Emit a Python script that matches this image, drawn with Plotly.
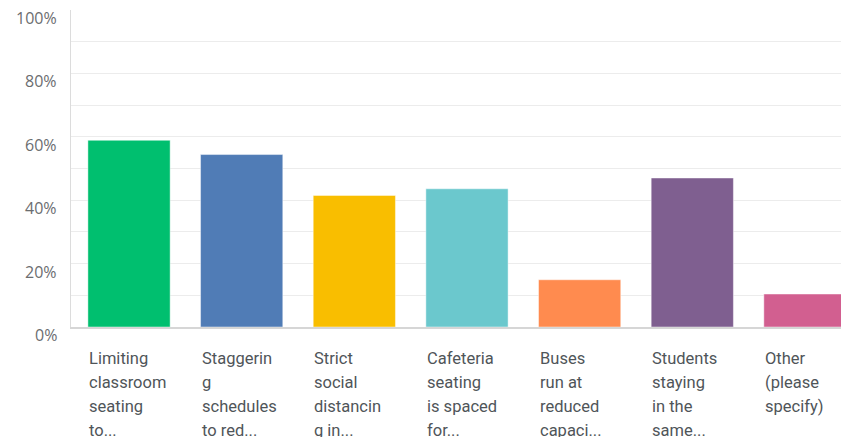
import plotly.graph_objects as go

categories = [
    "Limiting<br>classroom<br>seating<br>to...",
    "Staggerin<br>g<br>schedules<br>to red...",
    "Strict<br>social<br>distancin<br>g in...",
    "Cafeteria<br>seating<br>is spaced<br>for...",
    "Buses<br>run at<br>reduced<br>capaci...",
    "Students<br>staying<br>in the<br>same...",
    "Other<br>(please<br>specify)",
]
values = [58.9, 54.4, 41.5, 43.6, 14.9, 47.0, 10.4]
colors = ["#00BF6F", "#507CB6", "#F9BE00", "#6BC8CD", "#FF8B4F", "#7F5F90", "#D25F90"]
y_tick_values = [0, 20, 40, 60, 80, 100]
y_tick_labels = ["0%", "20%", "40%", "60%", "80%", "100%"]

xs = list(range(len(categories)))
bar_width = 0.73

fig = go.Figure(go.Bar(
    x=xs, y=values, width=bar_width,
    marker=dict(color=colors, line=dict(color="rgba(255,255,255,0.45)", width=1)),
    hoverinfo="skip",
))

annotations = []
for v, t in zip(y_tick_values, y_tick_labels):
    annotations.append(dict(
        xref="paper", yref="y", x=0, y=v, text=t, showarrow=False,
        xanchor="right", yanchor="middle", xshift=-12, yshift=-8,
        font=dict(family="Open Sans, sans-serif", size=16, color="#6b6d6f"),
    ))
for x, c in zip(xs, categories):
    for i, line in enumerate(c.split("<br>")):
        annotations.append(dict(
            xref="x", yref="paper", x=x - bar_width / 2, y=0, text=line, showarrow=False,
            xanchor="left", yanchor="middle", align="left", yshift=-31 - 24 * i,
            xshift=-1,
            font=dict(family="Roboto, sans-serif", size=16.5, color="#4f5559"),
        ))

fig.update_layout(
    width=841, height=437,
    margin=dict(l=71, r=0, t=10, b=110),
    plot_bgcolor="white", paper_bgcolor="white",
    showlegend=False,
    annotations=annotations,
    xaxis=dict(range=[-0.515, 6.32], showticklabels=False, showgrid=False,
               zeroline=False, showline=True, linecolor="#d6d6d6", linewidth=2,
               fixedrange=True),
    yaxis=dict(range=[0, 100], tickvals=list(range(10, 100, 10)), showticklabels=False,
               showgrid=True, gridcolor="#ececec", gridwidth=1, zeroline=False,
               showline=True, linecolor="#dcdcdc", linewidth=1, ticks="",
               fixedrange=True),
)

fig.write_html("out.html", config={"displayModeBar": False},
               post_script="document.body.style.margin='0';document.body.style.overflow='hidden';")
